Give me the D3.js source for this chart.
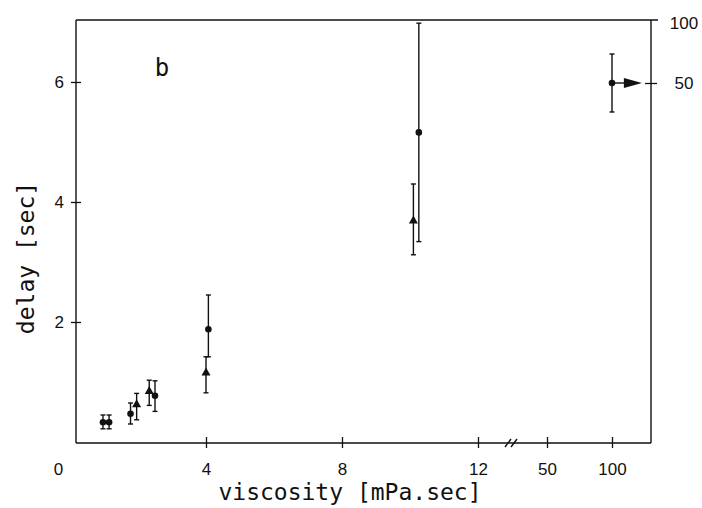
<!DOCTYPE html>
<html lang="en">
<head>
<meta charset="UTF-8">
<title>delay vs viscosity</title>
<script src="https://cdn.jsdelivr.net/npm/d3@7"></script>
<style>
    body { margin: 0; background: #fff; }
    .tick text { font-family: "Liberation Sans Narrow", "Liberation Sans", Arial, sans-serif; font-size: 17px; fill: #111; }
    .lbl { font-family: "DejaVu Sans Mono", monospace; fill: #111; }
</style>
</head>
<body>
<svg id="chart" width="702" height="508"></svg>
<script>
// circles
let circ_visc  = [0.97, 1.15, 1.78, 2.5, 4.07, 10.26]
let circ_delay = [0.33, 0.33, 0.47, 0.77, 1.88, 5.16]
let circ_lo    = [0.22, 0.22, 0.30, 0.51, 1.42, 3.34]
let circ_hi    = [0.45, 0.45, 0.65, 1.02, 2.45, 6.98]
// triangles
let tri_visc  = [1.96, 2.33, 4.0, 10.1]
let tri_delay = [0.63, 0.85, 1.16, 3.69]
let tri_lo    = [0.37, 0.61, 0.82, 3.12]
let tri_hi    = [0.81, 1.03, 1.42, 4.30]
// off-scale point (right axis)
let far_visc = 100, far_delay = 50, far_lo = 27, far_hi = 73, far_arrow_to = 123

let xTicks = [0, 4, 8, 12, 50, 100]
let yTicks = [2, 4, 6]
let yRightTicks = [50, 100]

let svg = d3.select("#chart")

let x = d3.scaleLinear().domain([0, 12, 50, 130]).range([70, 478, 547, 651])
let y = d3.scaleLinear().domain([0, 7.033]).range([442, 20])
let yR = d3.scaleLinear().domain([50, 100]).range([83, 20])

let fLeft = 76, fRight = 651, fTop = 20, fBottom = 443

// frame
let frame = svg.append("g").attr("stroke", "#111").attr("stroke-width", 1.4)
frame.append("line").attr("x1", fLeft).attr("x2", fLeft).attr("y1", fTop).attr("y2", fBottom)
frame.append("line").attr("x1", fLeft).attr("x2", fRight).attr("y1", fBottom).attr("y2", fBottom)
frame.append("line").attr("x1", fRight).attr("x2", fRight).attr("y1", fTop).attr("y2", fBottom)
frame.append("line").attr("x1", fLeft).attr("x2", fRight + 7).attr("y1", fTop).attr("y2", fTop)

// x axis
let gx = svg.append("g").attr("transform", "translate(0," + fBottom + ")")
    .call(d3.axisBottom(x).tickValues(xTicks).tickSize(0).tickPadding(20).tickFormat(d3.format("d")))
gx.select(".domain").remove()
gx.selectAll(".tick line").filter(d => d !== 0)
    .attr("y1", -6).attr("y2", 5).attr("stroke", "#111").attr("stroke-width", 1.3)
gx.selectAll(".tick text").filter(d => d === 0).attr("dx", -12)

// axis break
let bx = 511
svg.append("g").attr("stroke", "#111").attr("stroke-width", 1.4)
    .selectAll("line").data([-3, 3]).join("line")
    .attr("x1", d => bx + d - 3).attr("x2", d => bx + d + 3)
    .attr("y1", fBottom + 4).attr("y2", fBottom - 4)

// y axis left
let gy = svg.append("g").attr("transform", "translate(" + fLeft + ",0)")
    .call(d3.axisLeft(y).tickValues(yTicks).tickSize(0).tickPadding(12).tickFormat(d3.format("d")))
gy.select(".domain").remove()
gy.selectAll(".tick line").attr("x1", -5).attr("x2", 5).attr("stroke", "#111").attr("stroke-width", 1.3)

// y axis right
let gr = svg.append("g").attr("transform", "translate(" + fRight + ",0)")
    .call(d3.axisRight(yR).tickValues(yRightTicks).tickSize(0).tickPadding(33))
gr.select(".domain").remove()
gr.selectAll(".tick line").filter(d => d === 50)
    .attr("x1", -6).attr("x2", 6).attr("stroke", "#111").attr("stroke-width", 1.3)
gr.selectAll(".tick text").attr("text-anchor", "middle")
gr.selectAll(".tick text").filter(d => d === 100).attr("dy", "0.5em")

// error bars
function errBars(vx, lo, hi, yScale) {
    let g = svg.append("g").attr("stroke", "#111").attr("stroke-width", 1.4)
    vx.forEach((v, i) => {
        let cx = x(v)
        g.append("line").attr("x1", cx).attr("x2", cx).attr("y1", yScale(lo[i])).attr("y2", yScale(hi[i]))
        g.append("line").attr("x1", cx - 2.5).attr("x2", cx + 2.5).attr("y1", yScale(lo[i])).attr("y2", yScale(lo[i]))
        g.append("line").attr("x1", cx - 2.5).attr("x2", cx + 2.5).attr("y1", yScale(hi[i])).attr("y2", yScale(hi[i]))
    })
}
errBars(circ_visc, circ_lo, circ_hi, y)
errBars(tri_visc, tri_lo, tri_hi, y)
errBars([far_visc], [far_lo], [far_hi], yR)

// circles
svg.append("g").selectAll("circle").data(circ_visc).join("circle")
    .attr("cx", d => x(d)).attr("cy", (d, i) => y(circ_delay[i])).attr("r", 3.3).attr("fill", "#111")
svg.append("circle").attr("cx", x(far_visc)).attr("cy", yR(far_delay)).attr("r", 3.3).attr("fill", "#111")

// triangles
svg.append("g").selectAll("path").data(tri_visc).join("path")
    .attr("transform", (d, i) => "translate(" + x(d) + "," + y(tri_delay[i]) + ")")
    .attr("d", "M0,-5L4.5,3L-4.5,3Z").attr("fill", "#111")

// arrow
let ay = yR(far_delay)
svg.append("line").attr("x1", x(far_visc)).attr("x2", x(far_arrow_to) - 16).attr("y1", ay).attr("y2", ay)
    .attr("stroke", "#111").attr("stroke-width", 1.4)
svg.append("path")
    .attr("d", "M" + (x(far_arrow_to) - 18) + "," + (ay - 5) + "L" + x(far_arrow_to) + "," + ay + "L" + (x(far_arrow_to) - 18) + "," + (ay + 5) + "Z")
    .attr("fill", "#111")

// labels
svg.append("text").attr("class", "lbl").attr("x", 162).attr("y", 76)
    .attr("text-anchor", "middle").style("font-size", "24px").text("b")
svg.append("text").attr("class", "lbl").attr("x", 350).attr("y", 500)
    .attr("text-anchor", "middle").style("font-size", "23px").text("viscosity [mPa.sec]")
svg.append("text").attr("class", "lbl")
    .attr("transform", "translate(34,258) rotate(-90)")
    .attr("text-anchor", "middle").style("font-size", "23px").text("delay [sec]")
</script>
</body>
</html>
